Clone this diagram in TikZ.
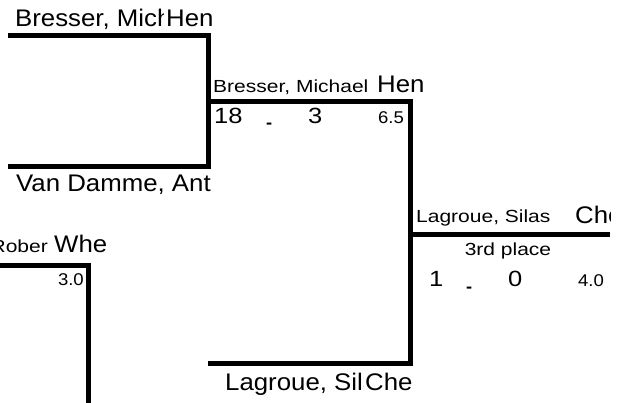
\documentclass[tikz,border=0pt]{standalone}
\usepackage{fontspec}
\setmainfont{Liberation Sans}
\newfontfamily\namefont[FakeStretch=1.075]{Liberation Sans}
\newfontfamily\shortfont[FakeStretch=1.2]{Liberation Sans}
\newfontfamily\scorefont[FakeStretch=1.16]{Liberation Sans}
\newfontfamily\pointfont[FakeStretch=1.09]{Liberation Sans}

\begin{document}
\begin{tikzpicture}[x=1pt, y=-1pt,
  bracket/.style={line width=5, line join=miter},
  bigname/.style={inner sep=0, anchor=base west, font=\namefont\fontsize{24}{24}\selectfont},
  smallname/.style={inner sep=0, anchor=base west, font=\shortfont\fontsize{17.5}{17.5}\selectfont},
  score/.style={inner sep=0, anchor=base west, font=\scorefont\fontsize{22}{22}\selectfont},
  sep/.style={inner sep=0, anchor=base west, font=\namefont\bfseries\fontsize{17}{17}\selectfont},
  points/.style={inner sep=0, anchor=base east, font=\pointfont\fontsize{17}{17}\selectfont}]

 \useasboundingbox (0,0) rectangle (626,403);

  %%%%%%%%%% Points pour travailler %%%%%%%%%%
 \coordinate (0) at (8,36);
 \coordinate (1) at (208,36);
 \coordinate (2) at (208,167);
 \coordinate (3) at (8,167);
 \coordinate (4) at (208,102);
 \coordinate (5) at (410,102);
 \coordinate (6) at (410,363);
 \coordinate (7) at (208,363);
 \coordinate (8) at (410,234.5);
 \coordinate (9) at (610,234.5);
 \coordinate (10) at (-5,266);
 \coordinate (11) at (88.5,266);
 \coordinate (12) at (88.5,410);

 %%%%%%%%%% Bracket lines %%%%%%%%%%
 \draw [bracket] (0) -- (1) -- (2) -- (3) ;
 \draw [bracket] (4) -- (5) -- (6) -- (7) ;
 \draw [bracket] (8) -- (9) ;
 \draw [bracket] (10) -- (11) -- (12) ;

 %%%%%%%%%%% Round 1 %%%%%%%%%%%
 \begin{scope}
  \clip (0,0) rectangle (163,34);
  \draw (15,27) node (r1a) [bigname] {\makebox[148pt][l]{Bresser, Michael}};
 \end{scope}
 \draw (166,27) node (r1ac) [bigname] {Hen};
 \draw (16,192) node (r1b) [bigname] {Van Damme, Ant};

 % lower left
 \begin{scope}
  \clip (0,230) rectangle (52,262);
  \draw (48,253) node (r1c) [smallname, anchor=base east] {\makebox[48pt][r]{Rober}};
 \end{scope}
 \draw (54,253) node (r1cc) [bigname] {Whe};
 \draw (84,285) node (r1cp) [points] {3.0};

 %%%%%%%%%%% Round 2 %%%%%%%%%%%
 \draw (213,93) node (r2a) [smallname] {Bresser, Michael};
 \draw (377,93) node (r2ac) [bigname] {Hen};
 \draw (214,124) node (r2s1) [score] {18};
 \draw (266,129) node (r2sep) [sep] {-};
 \draw (308,124) node (r2s2) [score] {3};
 \draw (404,124) node (r2p) [points] {6.5};

 \begin{scope}
  \clip (200,366) rectangle (363,403);
  \draw (225,390) node (r2b) [bigname] {\makebox[136pt][l]{Lagroue, Silas}};
 \end{scope}
 \draw (365,390) node (r2bc) [bigname] {Che};

 %%%%%%%%%%% Third place %%%%%%%%%%%
 \draw (416,223) node (r3) [smallname] {Lagroue, Silas};
 \begin{scope}
  \clip (560,195) rectangle (610,232);
  \draw (575,224) node (r3c) [bigname] {\makebox[35pt][l]{Che}};
 \end{scope}
 \draw (508,256) node (r3t) [smallname, anchor=base] {3rd place};
 \draw (429,287) node (r3s1) [score] {1};
 \draw (466,292) node (r3sep) [sep] {-};
 \draw (508,287) node (r3s2) [score] {0};
 \draw (604,287) node (r3p) [points] {4.0};

\end{tikzpicture}
\end{document}
